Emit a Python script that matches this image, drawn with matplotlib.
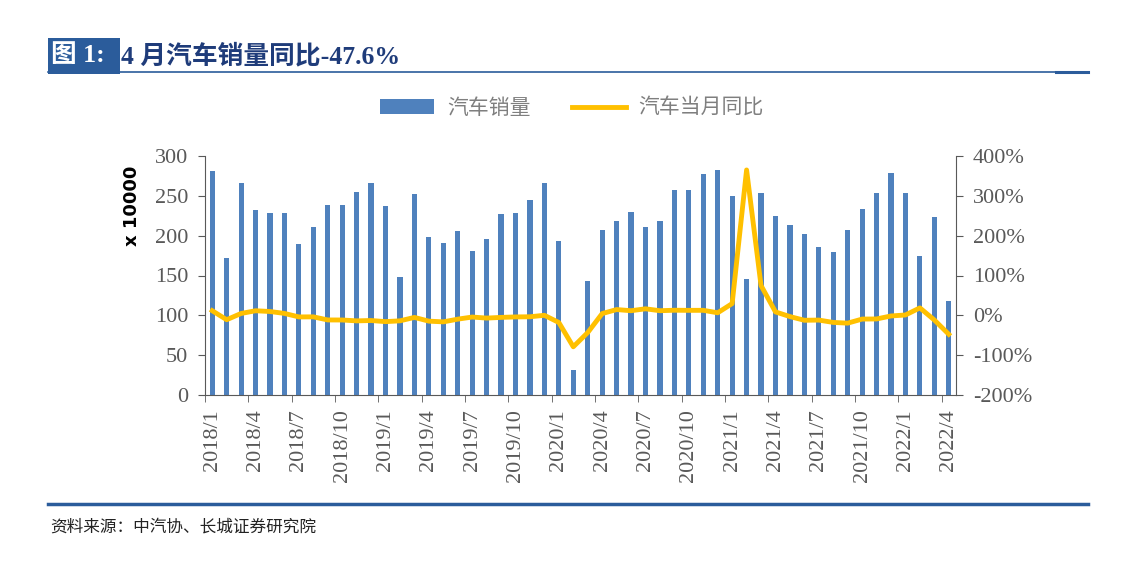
import matplotlib.pyplot as plt
from matplotlib.lines import Line2D
from matplotlib.patches import Patch, Rectangle
import numpy as np

plt.rcParams['font.family'] = ['Liberation Serif', 'Noto Sans CJK SC', 'DejaVu Sans']

# monthly labels 2018/1 .. 2022/4
months = [f"{y}/{m}" for y in range(2018, 2023) for m in range(1, 13)][:52]

# car sales, x 10000
sales = [281, 172, 266, 232, 229, 228, 189, 211, 239, 238, 255, 266,
         237, 148, 252, 198, 191, 206, 181, 196, 227, 229, 245, 266,
         193, 31, 143, 207, 219, 230, 211, 219, 257, 257, 277, 283,
         250, 146, 253, 225, 213, 202, 186, 180, 207, 234, 253, 279,
         253, 174, 223, 118]

# year-on-year change, %
yoy = [11.6, -11.0, 4.7, 11.5, 9.6, 4.8, -4.0, -3.8, -11.6, -11.7, -13.9, -13.0,
       -15.8, -13.8, -5.2, -14.6, -16.4, -9.6, -4.3, -6.9, -5.2, -4.0, -3.6, 0.1,
       -18.0, -79.0, -43.3, 4.4, 14.5, 11.6, 16.4, 11.6, 12.8, 12.5, 12.6, 6.4,
       29.5, 365.0, 74.9, 8.6, -3.1, -12.4, -11.9, -17.8, -19.6, -9.4, -9.1, -1.6,
       0.9, 18.7, -11.7, -47.6]

bar_color = '#4F81BD'
line_color = '#FFC000'
navy = '#2B5C9B'
grey = '#595959'

W, H = 1127, 572
fig = plt.figure(figsize=(W / 100, H / 100), dpi=100)

def fx(px):
    return px / W

def fy(py):
    return 1 - py / H

# title block
fig.patches.append(Rectangle((fx(48), fy(74)), fx(72), 36 / H, transform=fig.transFigure,
                             facecolor=navy, edgecolor='none'))
fig.text(fx(51), fy(56), '图 1:', color='white', fontsize=18.5, fontweight='bold',
         va='center', ha='left', family=['Liberation Serif', 'Noto Sans CJK SC'])
fig.text(fx(121), fy(56), '4 月汽车销量同比-47.6%', color='#1F3C7A', fontsize=18.5,
         fontweight='bold', va='center', ha='left',
         family=['Liberation Serif', 'Noto Sans CJK SC'])
fig.add_artist(Line2D([fx(48), fx(1088)], [fy(72), fy(72)], color=navy, lw=1.2,
                      transform=fig.transFigure))
fig.add_artist(Line2D([fx(1056), fx(1088)], [fy(72), fy(72)], color=navy, lw=2.2,
                      transform=fig.transFigure))

# bottom rule and source
fig.add_artist(Line2D([fx(48), fx(1088)], [fy(504), fy(504)], color=navy, lw=2.5,
                      transform=fig.transFigure))
fig.text(fx(50), fy(527), '资料来源：中汽协、长城证券研究院', fontsize=12, style='italic',
         color='#222222', va='center', ha='left', family=['Noto Sans CJK SC'])

ax = fig.add_axes([fx(205), fy(395), fx(956 - 205), (395 - 156) / H])
x = np.arange(len(months))
ax.bar(x, sales, width=0.36, color=bar_color, zorder=2)
ax.set_xlim(-0.5, len(months) - 0.5)
ax.set_ylim(0, 300)
ax.set_yticks(np.arange(0, 301, 50))
ax.tick_params(axis='y', labelsize=16, labelcolor=grey, color=grey, length=5, pad=7)
ax.set_xticks(x[::3])
ax.set_xticklabels(months[::3], rotation=90, fontsize=16, color=grey)
ax.set_xticks(np.arange(-0.5, len(months), 3), minor=True)
ax.tick_params(axis='x', which='major', length=0, pad=10)
ax.tick_params(axis='x', which='minor', length=5, color=grey)
ax.set_ylabel('x 10000', fontsize=13, fontweight='bold', family='DejaVu Sans')
ax.yaxis.set_label_coords(-0.085, 0.79)
for s in ['top', 'right']:
    ax.spines[s].set_visible(False)
ax.spines['left'].set_color(grey)
ax.spines['bottom'].set_color(grey)

ax2 = ax.twinx()
ax2.plot(x, yoy, color=line_color, lw=3.5, zorder=3)
ax2.set_ylim(-200, 400)
ax2.set_yticks(np.arange(-200, 401, 100))
ax2.set_yticklabels([f'{v}%' for v in range(-200, 401, 100)])
ax2.tick_params(axis='y', labelsize=16, labelcolor=grey, color=grey, length=5, pad=7)
for s in ['top', 'left', 'bottom']:
    ax2.spines[s].set_visible(False)
ax2.spines['right'].set_color(grey)

handles = [Patch(facecolor=bar_color, edgecolor='none'),
           Line2D([0], [0], color=line_color, lw=3.5)]
fig.legend(handles, ['汽车销量', '汽车当月同比'], loc='center', bbox_to_anchor=(fx(572), fy(108)),
           ncol=2, frameon=False, prop={'family': 'Noto Sans CJK SC', 'size': 15},
           labelcolor='#7F7F7F', handlelength=2.6, columnspacing=2.0, handletextpad=0.6)

fig.savefig('out.png', dpi=100)
